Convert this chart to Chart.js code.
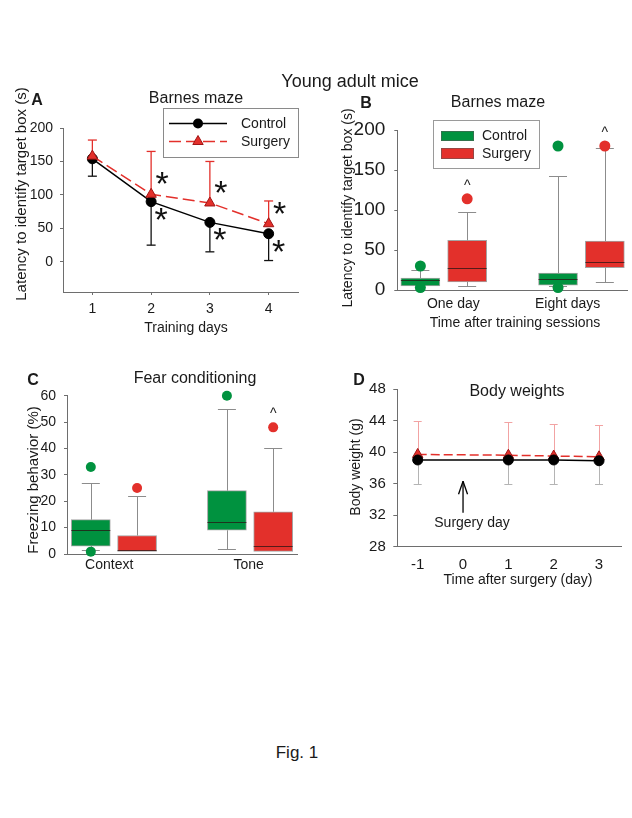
<!DOCTYPE html>
<html><head><meta charset="utf-8">
<script src="https://cdn.jsdelivr.net/npm/chart.js@4.4.1/dist/chart.umd.min.js"></script>
<style>
html,body{margin:0;padding:0;background:#fff;width:632px;height:818px;overflow:hidden;}
body{position:relative;font-family:'Liberation Sans',Arial,sans-serif;color:#1a1a1a;}
canvas{position:absolute;}
.t{position:absolute;white-space:nowrap;transform:translate(-50%,-50%);line-height:1;}
.r{transform:translate(-50%,-50%) rotate(-90deg);}
.b{font-weight:bold;font-size:16px;}
</style></head><body>
<canvas id="cA" width="316" height="290" style="left:0;top:60px"></canvas>
<canvas id="cB" width="312" height="290" style="left:320px;top:60px"></canvas>
<canvas id="cC" width="316" height="250" style="left:0;top:340px"></canvas>
<canvas id="cD" width="312" height="250" style="left:320px;top:340px"></canvas>

<div class="t" style="left:350px;top:81px;font-size:18px">Young adult mice</div>

<div class="t b" style="left:37px;top:100px">A</div>
<div class="t" style="left:196px;top:98px;font-size:16px">Barnes maze</div>
<div class="t r" style="left:20px;top:194px;font-size:15px">Latency to identify target box (s)</div>
<div class="t" style="left:186px;top:327px;font-size:14px">Training days</div>

<div class="t b" style="left:366px;top:103px">B</div>
<div class="t" style="left:498px;top:102px;font-size:16px">Barnes maze</div>
<div class="t r" style="left:347px;top:208px;font-size:14px">Latency to identify target box (s)</div>
<div class="t" style="left:515px;top:322px;font-size:14px">Time after training sessions</div>

<div class="t b" style="left:33px;top:380px">C</div>
<div class="t" style="left:195px;top:378px;font-size:16px">Fear conditioning</div>
<div class="t r" style="left:32px;top:480px;font-size:15px">Freezing behavior (%)</div>

<div class="t b" style="left:359px;top:380px">D</div>
<div class="t" style="left:517px;top:391px;font-size:16px">Body weights</div>
<div class="t r" style="left:355px;top:467px;font-size:14px">Body weight (g)</div>
<div class="t" style="left:518px;top:579px;font-size:14px">Time after surgery (day)</div>
<div class="t" style="left:472px;top:522px;font-size:14px">Surgery day</div>

<div class="t" style="left:297px;top:752px;font-size:17px">Fig. 1</div>

<script>
// ---------------- DATA ----------------
// Panel A: Barnes maze training
const aDays = [1, 2, 3, 4];
const aControlMean = [154, 90, 59, 42];
const aControlErrLow = [128, 25, 15, 2];
const aSurgeryMean = [158, 101, 88, 57];
const aSurgeryErrHigh = [182, 165, 150, 91];
const aControlSig = [false, true, true, true];
const aSurgerySig = [false, true, true, true];
const aYTicks = [0, 50, 100, 150, 200];

// Panel B: Barnes maze memory (box plots)
const bGroups = ['One day', 'Eight days'];
const bCtrlLow = [5, 5];
const bCtrlQ1 = [5, 6];
const bCtrlMed = [12, 14];
const bCtrlQ3 = [15, 21];
const bCtrlHigh = [25, 142];
const bCtrlOut = [[30, 3], [180, 3]];
const bCtrlMark = ['', ''];
const bSurgLow = [5, 10];
const bSurgQ1 = [10, 28];
const bSurgMed = [27, 35];
const bSurgQ3 = [62, 61];
const bSurgHigh = [98, 178];
const bSurgOut = [[114], [180]];
const bSurgMark = ['^', '^'];
const bYTicks = [0, 50, 100, 150, 200];

// Panel C: Fear conditioning (box plots)
const cGroups = ['Context', 'Tone'];
const cCtrlLow = [1.5, 2];
const cCtrlQ1 = [3, 9];
const cCtrlMed = [9, 12];
const cCtrlQ3 = [13, 24];
const cCtrlHigh = [27, 55];
const cCtrlOut = [[33, 0.9], [60]];
const cCtrlMark = ['', ''];
const cSurgLow = [1, 1];
const cSurgQ1 = [1, 1];
const cSurgMed = [1.7, 3];
const cSurgQ3 = [7, 16];
const cSurgHigh = [22, 40];
const cSurgOut = [[25], [48]];
const cSurgMark = ['', '^'];
const cYTicks = [0, 10, 20, 30, 40, 50, 60];

// Panel D: Body weights
const dDays = [-1, 1, 2, 3];
const dCtrlMean = [39.0, 39.0, 39.0, 38.9];
const dCtrlErrLow = [36, 36, 36, 36];
const dSurgMean = [39.7, 39.6, 39.5, 39.4];
const dSurgErrHigh = [43.9, 43.8, 43.6, 43.4];
const dXTicks = [-1, 0, 1, 2, 3];
const dYTicks = [28, 32, 36, 40, 44, 48];
const dSurgeryDay = 0;

// ---------------- STYLE ----------------
const FONT = "'Liberation Sans', Arial, sans-serif";
const AXIS = '#6e6e6e';
const TXT = '#1a1a1a';
const GREEN = '#00923f';
const RED = '#e3302b';
const WHISK = '#8c8c8c';
Chart.defaults.font.family = FONT;
Chart.defaults.color = TXT;

function yAxis(o) {
  return {
    type: 'linear', position: 'left', min: o.min, max: o.max,
    afterBuildTicks: s => { s.ticks = o.ticks.map(v => ({value: v})); },
    afterFit: s => { s.width = o.width; },
    grid: {drawOnChartArea: false, drawTicks: true, tickLength: o.tl, color: AXIS, lineWidth: 1},
    border: {display: true, color: AXIS, width: 1},
    ticks: {font: {size: o.fs, family: FONT}, color: TXT, padding: o.pad, autoSkip: false}
  };
}
function xAxis(o) {
  const t = {font: {size: o.fs, family: FONT}, color: TXT, padding: o.pad, autoSkip: false, maxRotation: 0, minRotation: 0};
  if (o.labels) t.callback = (v, i) => o.labels[i];
  return {
    type: 'linear', position: 'bottom', min: o.min, max: o.max, offset: false,
    afterBuildTicks: s => { s.ticks = o.ticks.map(v => ({value: v})); },
    afterFit: s => { s.height = o.height; },
    grid: {drawOnChartArea: false, drawTicks: o.tl > 0, tickLength: o.tl, color: AXIS, lineWidth: 1, offset: false},
    border: {display: true, color: AXIS, width: 1},
    ticks: t
  };
}
function baseOpts(padding, scales) {
  return {
    responsive: false, animation: false, devicePixelRatio: 1,
    layout: {padding, autoPadding: false},
    plugins: {legend: {display: false}, tooltip: {enabled: false}, title: {display: false}},
    scales
  };
}
function line(ctx, x1, y1, x2, y2) { ctx.beginPath(); ctx.moveTo(x1, y1); ctx.lineTo(x2, y2); ctx.stroke(); }
function tri(ctx, x, y, r) {
  ctx.beginPath();
  ctx.moveTo(x, y - r);
  ctx.lineTo(x + 0.866 * r, y + 0.5 * r);
  ctx.lineTo(x - 0.866 * r, y + 0.5 * r);
  ctx.closePath();
}

// ---------------- PANEL A ----------------
const errA = {id: 'errA', beforeDatasetsDraw(chart) {
  const ctx = chart.ctx, y = chart.scales.y;
  const sM = chart.getDatasetMeta(0), cM = chart.getDatasetMeta(1);
  ctx.save(); ctx.lineWidth = 1.3;
  ctx.strokeStyle = '#111';
  aControlErrLow.forEach((v, i) => {
    const p = cM.data[i], py = y.getPixelForValue(v);
    line(ctx, p.x, p.y, p.x, py); line(ctx, p.x - 4.5, py, p.x + 4.5, py);
  });
  ctx.strokeStyle = RED;
  aSurgeryErrHigh.forEach((v, i) => {
    const p = sM.data[i], py = y.getPixelForValue(v);
    line(ctx, p.x, p.y, p.x, py); line(ctx, p.x - 4.5, py, p.x + 4.5, py);
  });
  ctx.restore();
}};
const STAR = 34;
const starsA = {id: 'starsA', afterDatasetsDraw(chart) {
  const ctx = chart.ctx;
  const sM = chart.getDatasetMeta(0), cM = chart.getDatasetMeta(1);
  ctx.save(); ctx.fillStyle = '#111'; ctx.font = STAR + 'px ' + FONT;
  ctx.textAlign = 'center'; ctx.textBaseline = 'alphabetic';
  const off = STAR * 0.47;
  aSurgerySig.forEach((s, i) => { if (s) { const p = sM.data[i]; ctx.fillText('*', p.x + 11, p.y - 15 + off); } });
  aControlSig.forEach((s, i) => { if (s) { const p = cM.data[i]; ctx.fillText('*', p.x + 10, p.y + 13 + off); } });
  ctx.restore();
}};
const legendA = {id: 'legendA', afterDraw(chart) {
  const ctx = chart.ctx; // canvas offset (0,60)
  ctx.save();
  ctx.strokeStyle = '#8a8a8a'; ctx.lineWidth = 1;
  ctx.strokeRect(163.5, 48.5, 135, 49);
  ctx.lineWidth = 1.5; ctx.strokeStyle = '#000';
  line(ctx, 169, 63.5, 227, 63.5);
  ctx.fillStyle = '#000'; ctx.beginPath(); ctx.arc(198, 63.5, 5, 0, Math.PI * 2); ctx.fill();
  ctx.strokeStyle = RED; ctx.setLineDash([12, 5]);
  line(ctx, 169, 81.5, 227, 81.5);
  ctx.setLineDash([]);
  tri(ctx, 198, 81.5, 6); ctx.fillStyle = RED; ctx.fill(); ctx.lineWidth = 1; ctx.strokeStyle = '#a01515'; ctx.stroke();
  ctx.fillStyle = TXT; ctx.font = '14px ' + FONT; ctx.textAlign = 'left'; ctx.textBaseline = 'middle';
  ctx.fillText('Control', 241, 64); ctx.fillText('Surgery', 241, 82);
  ctx.restore();
}};
new Chart(document.getElementById('cA'), {
  type: 'line',
  data: {datasets: [
    {label: 'Surgery', data: aDays.map((d, i) => ({x: d, y: aSurgeryMean[i]})),
     borderColor: RED, borderWidth: 1.5, borderDash: [12, 5], tension: 0,
     pointStyle: 'triangle', pointRadius: 6, pointBackgroundColor: RED, pointBorderColor: '#a01515', pointBorderWidth: 1},
    {label: 'Control', data: aDays.map((d, i) => ({x: d, y: aControlMean[i]})),
     borderColor: '#000', borderWidth: 1.5, tension: 0,
     pointStyle: 'circle', pointRadius: 5, pointBackgroundColor: '#000', pointBorderColor: '#000', pointBorderWidth: 1}
  ]},
  options: baseOpts({left: 0, top: 68, right: 18, bottom: 28}, {
    x: xAxis({min: 0.5, max: 4.5, ticks: aDays, height: 30, tl: 3, pad: 6, fs: 14}),
    y: yAxis({min: -45, max: 200, ticks: aYTicks, width: 63, tl: 3, pad: 7, fs: 14})
  }),
  plugins: [errA, starsA, legendA]
});

// ---------------- BOX PLOT HELPER ----------------
function boxPlugin(id, sets, opt) {
  return {id, afterDatasetsDraw(chart) {
    const ctx = chart.ctx, y = chart.scales.y;
    const px = v => y.getPixelForValue(v);
    sets.forEach((s, di) => {
      const meta = chart.getDatasetMeta(di);
      meta.data.forEach((el, i) => {
        const cx = el.x, w = el.width, cxr = Math.round(cx) + 0.5;
        ctx.save();
        ctx.lineWidth = 1; ctx.strokeStyle = WHISK;
        if (s.hi[i] > s.q3[i]) {
          const h = Math.round(px(s.hi[i])) + 0.5;
          line(ctx, cxr, px(s.q3[i]), cxr, h); line(ctx, cx - opt.cap, h, cx + opt.cap, h);
        }
        if (s.lo[i] < s.q1[i]) {
          const l = Math.round(px(s.lo[i])) + 0.5;
          line(ctx, cxr, px(s.q1[i]), cxr, l); line(ctx, cx - opt.cap, l, cx + opt.cap, l);
        }
        ctx.strokeStyle = 'rgba(40,20,20,0.75)';
        const m = Math.round(px(s.med[i])) + 0.5;
        line(ctx, cx - w / 2, m, cx + w / 2, m);
        ctx.fillStyle = s.color;
        s.out[i].forEach(v => { ctx.beginPath(); ctx.arc(cx, px(v), opt.r, 0, Math.PI * 2); ctx.fill(); });
        if (s.mark[i]) {
          const top = Math.max(s.hi[i], ...s.out[i]);
          ctx.fillStyle = TXT; ctx.font = '14px ' + FONT; ctx.textAlign = 'center'; ctx.textBaseline = 'alphabetic';
          ctx.fillText(s.mark[i], cx, px(top) - 17 + 8);
        }
        ctx.restore();
      });
    });
  }};
}
const BOX_OFF = 0.17;
function boxDataset(label, q1, q3, color, thick) {
  return {type: 'bar', label, data: q1.map((v, i) => ({x: i + (label === 'Control' ? -BOX_OFF : BOX_OFF), y: [v, q3[i]]})),
    backgroundColor: color, borderColor: 'rgba(90,90,90,0.55)', borderWidth: 1, borderSkipped: false,
    barThickness: thick, grouped: false};
}

// ---------------- PANEL B ----------------
const legendB = {id: 'legendB', afterDraw(chart) {
  const ctx = chart.ctx; // canvas offset (320,60)
  ctx.save();
  ctx.strokeStyle = '#9a9a9a'; ctx.lineWidth = 1;
  ctx.strokeRect(113.5, 60.5, 106, 48);
  ctx.fillStyle = GREEN; ctx.fillRect(121, 71, 33, 10);
  ctx.fillStyle = RED; ctx.fillRect(121, 88, 33, 11);
  ctx.strokeStyle = 'rgba(90,90,90,0.55)';
  ctx.strokeRect(121.5, 71.5, 32, 9); ctx.strokeRect(121.5, 88.5, 32, 10);
  ctx.fillStyle = TXT; ctx.font = '14px ' + FONT; ctx.textAlign = 'left'; ctx.textBaseline = 'middle';
  ctx.fillText('Control', 162, 76.5); ctx.fillText('Surgery', 162, 94);
  ctx.restore();
}};
const B_LABEL_AT = [0.07, 0.9];
new Chart(document.getElementById('cB'), {
  type: 'bar',
  data: {datasets: [
    boxDataset('Control', bCtrlQ1, bCtrlQ3, GREEN, 39),
    boxDataset('Surgery', bSurgQ1, bSurgQ3, RED, 39)
  ]},
  options: baseOpts({left: 0, top: 70, right: 5, bottom: 30}, {
    x: xAxis({min: -0.3375, max: 1.331, ticks: B_LABEL_AT, labels: bGroups, height: 30, tl: 0, pad: 6, fs: 14}),
    y: yAxis({min: 0, max: 200, ticks: bYTicks, width: 77.3, tl: 3, pad: 9, fs: 19})
  }),
  plugins: [boxPlugin('boxB', [
    {lo: bCtrlLow, q1: bCtrlQ1, med: bCtrlMed, q3: bCtrlQ3, hi: bCtrlHigh, out: bCtrlOut, mark: bCtrlMark, color: GREEN},
    {lo: bSurgLow, q1: bSurgQ1, med: bSurgMed, q3: bSurgQ3, hi: bSurgHigh, out: bSurgOut, mark: bSurgMark, color: RED}
  ], {cap: 9, r: 5.5}), legendB]
});

// ---------------- PANEL C ----------------
const C_LABEL_AT = [-0.035, 0.99];
new Chart(document.getElementById('cC'), {
  type: 'bar',
  data: {datasets: [
    boxDataset('Control', cCtrlQ1, cCtrlQ3, GREEN, 39),
    boxDataset('Surgery', cSurgQ1, cSurgQ3, RED, 39)
  ]},
  options: baseOpts({left: 0, top: 55.7, right: 19, bottom: 10}, {
    x: xAxis({min: -0.345, max: 1.345, ticks: C_LABEL_AT, labels: cGroups, height: 26, tl: 0, pad: 3, fs: 14}),
    y: yAxis({min: 0, max: 60, ticks: cYTicks, width: 67, tl: 3, pad: 8, fs: 14})
  }),
  plugins: [boxPlugin('boxC', [
    {lo: cCtrlLow, q1: cCtrlQ1, med: cCtrlMed, q3: cCtrlQ3, hi: cCtrlHigh, out: cCtrlOut, mark: cCtrlMark, color: GREEN},
    {lo: cSurgLow, q1: cSurgQ1, med: cSurgMed, q3: cSurgQ3, hi: cSurgHigh, out: cSurgOut, mark: cSurgMark, color: RED}
  ], {cap: 9, r: 5})]
});

// ---------------- PANEL D ----------------
const errD = {id: 'errD', beforeDatasetsDraw(chart) {
  const ctx = chart.ctx, y = chart.scales.y;
  const cM = chart.getDatasetMeta(0), sM = chart.getDatasetMeta(1);
  ctx.save(); ctx.lineWidth = 1;
  ctx.strokeStyle = '#b4b4b4';
  dCtrlErrLow.forEach((v, i) => {
    const p = cM.data[i], py = Math.round(y.getPixelForValue(v)) + 0.5, xr = Math.round(p.x) + 0.5;
    line(ctx, xr, p.y, xr, py); line(ctx, p.x - 4, py, p.x + 4, py);
  });
  ctx.strokeStyle = '#f2a3a3';
  dSurgErrHigh.forEach((v, i) => {
    const p = sM.data[i], py = Math.round(y.getPixelForValue(v)) + 0.5, xr = Math.round(p.x) + 0.5;
    line(ctx, xr, p.y, xr, py); line(ctx, p.x - 4, py, p.x + 4, py);
  });
  ctx.restore();
}};
const arrowD = {id: 'arrowD', afterDraw(chart) {
  const ctx = chart.ctx;
  const x = chart.scales.x.getPixelForValue(dSurgeryDay);
  const yt = chart.scales.y.getPixelForValue(36.3), yb = chart.scales.y.getPixelForValue(32.3);
  ctx.save(); ctx.strokeStyle = '#000'; ctx.lineWidth = 1.3;
  line(ctx, x, yt, x, yb);
  line(ctx, x, yt, x - 4.5, yt + 13); line(ctx, x, yt, x + 4.5, yt + 13);
  ctx.restore();
}};
new Chart(document.getElementById('cD'), {
  type: 'line',
  data: {datasets: [
    {label: 'Control', data: dDays.map((d, i) => ({x: d, y: dCtrlMean[i]})),
     borderColor: '#000', borderWidth: 1.5, tension: 0,
     pointStyle: 'circle', pointRadius: 5, pointBackgroundColor: '#000', pointBorderColor: '#000', pointBorderWidth: 1},
    {label: 'Surgery', data: dDays.map((d, i) => ({x: d, y: dSurgMean[i]})),
     borderColor: RED, borderWidth: 1.5, borderDash: [9, 4], tension: 0,
     pointStyle: 'triangle', pointRadius: 6, pointBackgroundColor: RED, pointBorderColor: '#a01515', pointBorderWidth: 1}
  ]},
  options: baseOpts({left: 0, top: 49, right: 10.3, bottom: 13.3}, {
    x: xAxis({min: -1.45, max: 3.5, ticks: dXTicks, height: 30, tl: 0, pad: 9, fs: 15}),
    y: yAxis({min: 28, max: 48, ticks: dYTicks, width: 77.3, tl: 4, pad: 7.5, fs: 15})
  }),
  plugins: [errD, arrowD]
});
</script>
</body></html>
